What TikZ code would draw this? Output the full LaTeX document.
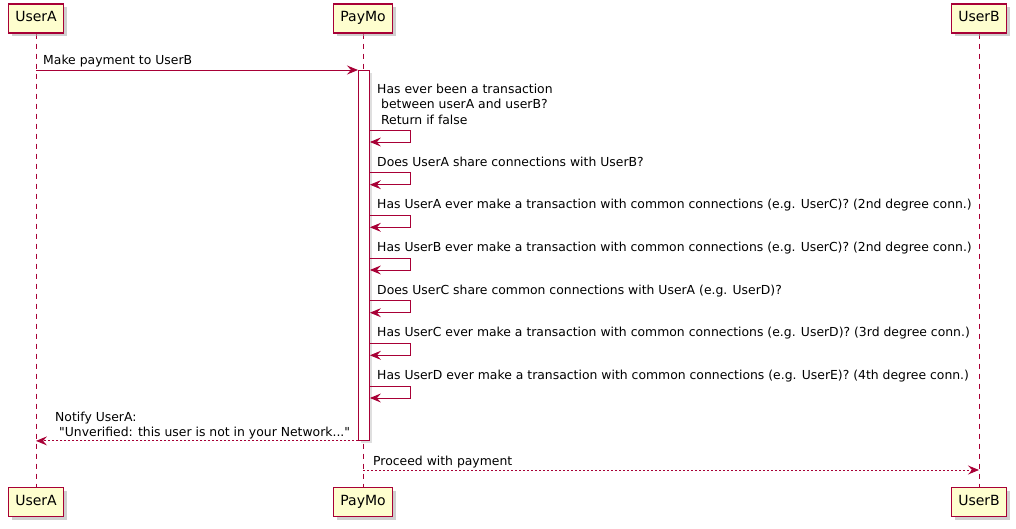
\documentclass[tikz,border=0pt]{standalone}
\usepackage{fontspec}
\setmainfont{DejaVu Sans}[Ligatures=TeXOff]
\usetikzlibrary{arrows.meta,shadows}
\definecolor{umlred}{HTML}{A80036}
\definecolor{umlfill}{HTML}{FEFECE}
\tikzset{
  x=1pt, y=-1pt,
  actor/.style={draw=umlred, fill=umlfill, line width=1.2pt, inner xsep=7pt,
    minimum height=29pt, text height=10pt, text depth=3pt,
    font=\fontsize{14}{16}\selectfont,
    drop shadow={shadow xshift=3.5pt, shadow yshift=-3.5pt, fill=black!25}},
  lifeline/.style={draw=umlred, line width=0.8pt, dash pattern=on 5pt off 5pt},
  activation/.style={draw=umlred, fill=white, line width=0.9pt, minimum width=11pt,
    minimum height=370pt, inner sep=0pt, anchor=north west,
    drop shadow={shadow xshift=3pt, shadow yshift=-3pt, fill=black!25}},
  msg/.style={draw=umlred, line width=0.9pt,
    -{Stealth[length=11pt, width=9pt, inset=4pt]}},
  reply/.style={msg, dash pattern=on 2pt off 2pt},
  msgtext/.style={anchor=base west, inner sep=0pt, align=left,
    font=\fontsize{12.4}{15.5}\selectfont}
}

\begin{document}
\begin{tikzpicture}
  \useasboundingbox (0,0) rectangle (1016,529);

  % participants
  \node[actor] (userA)    at (36,18.5)  {UserA};
  \node[actor] (payMo)    at (363,18.5) {PayMo};
  \node[actor] (userB)    at (979,18.5) {UserB};
  \node[actor] (userAend) at (36,502)   {UserA};
  \node[actor] (payMoend) at (363,502)  {PayMo};
  \node[actor] (userBend) at (979,502)  {UserB};

  \draw[lifeline] (userA) -- (userAend);
  \draw[lifeline] (payMo) -- (payMoend);
  \draw[lifeline] (userB) -- (userBend);
  \node[actor] at (userA) {UserA};
  \node[actor] at (payMo) {PayMo};
  \node[actor] at (userB) {UserB};
  \node[actor] at (userAend) {UserA};
  \node[actor] at (payMoend) {PayMo};
  \node[actor] at (userBend) {UserB};

  \node[activation] (act) at (358,70) {};

  % request
  \draw[msg] (userA |- act.north) -- (act.north west);
  \node[msgtext] (lbl0) at (43,64.5) {Make payment to UserB};

  % checks
  \draw[msg] (act.east |- 0,130) -- ++(41,0) |- (act.east |- 0,142);
  \node[msgtext] (lbl1) at (377,124.5) {Has ever been a transaction\\\hspace*{0.32em}between userA and userB?\\\hspace*{0.32em}Return if false};

  \draw[msg] (act.east |- 0,172.7) -- ++(41,0) |- (act.east |- 0,184.7);
  \node[msgtext] (lbl2) at (377,166.2) {Does UserA share connections with UserB?};

  \draw[msg] (act.east |- 0,215.3) -- ++(41,0) |- (act.east |- 0,227.3);
  \node[msgtext] (lbl3) at (377,208.8) {Has UserA ever make a transaction with common connections (e.g. UserC)? (2nd degree conn.)};

  \draw[msg] (act.east |- 0,258) -- ++(41,0) |- (act.east |- 0,270);
  \node[msgtext] (lbl4) at (377,251.5) {Has UserB ever make a transaction with common connections (e.g. UserC)? (2nd degree conn.)};

  \draw[msg] (act.east |- 0,300.7) -- ++(41,0) |- (act.east |- 0,312.7);
  \node[msgtext] (lbl5) at (377,294.2) {Does UserC share common connections with UserA (e.g. UserD)?};

  \draw[msg] (act.east |- 0,343.3) -- ++(41,0) |- (act.east |- 0,355.3);
  \node[msgtext] (lbl6) at (377,336.8) {Has UserC ever make a transaction with common connections (e.g. UserD)? (3rd degree conn.)};

  \draw[msg] (act.east |- 0,386) -- ++(41,0) |- (act.east |- 0,398);
  \node[msgtext] (lbl7) at (377,379.5) {Has UserD ever make a transaction with common connections (e.g. UserE)? (4th degree conn.)};

  % answers
  \draw[reply] (act.south west) -- (userA |- act.south);
  \node[msgtext] (lbl8) at (55,436.5) {Notify UserA:\\\hspace*{0.32em}"Unverified: this user is not in your Network..."};

  \draw[reply] (payMo |- 0,470) -- (userB |- 0,470);
  \node[msgtext] (lbl9) at (373,465.5) {Proceed with payment};
\end{tikzpicture}
\end{document}
